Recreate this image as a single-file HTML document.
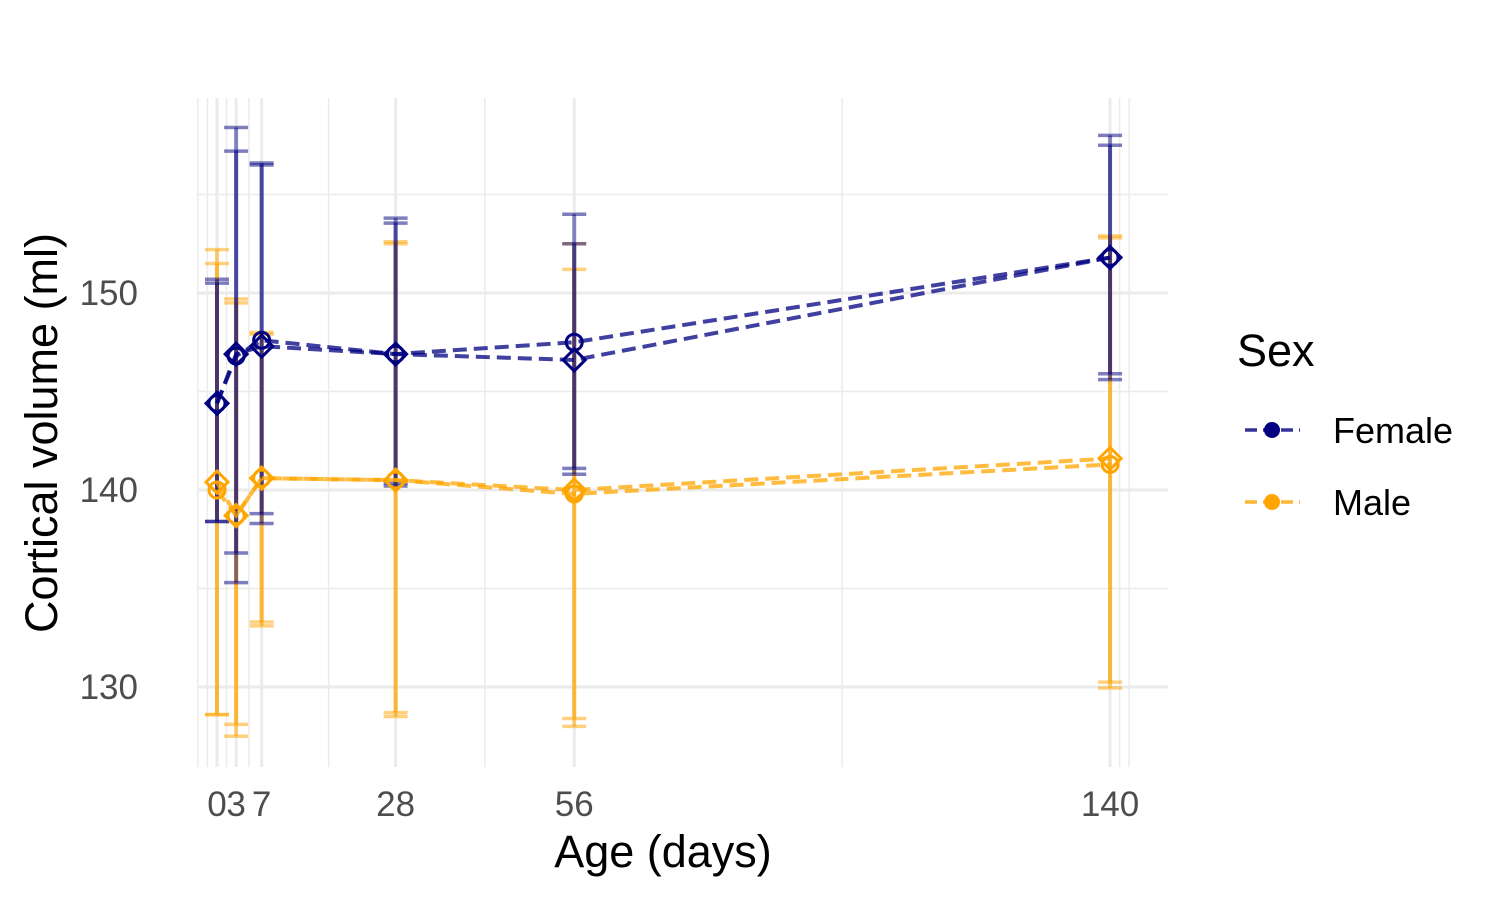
<!DOCTYPE html>
<html><head><meta charset="utf-8"><style>
body{margin:0;background:#fff;}
svg text{font-family:"Liberation Sans",sans-serif;}
</style></head><body>
<svg id="chart" width="1500" height="900" xmlns="http://www.w3.org/2000/svg">
<g id="grid"></g><g id="marks"></g><g id="axes"></g>
<text transform="translate(57,433) rotate(-90)" text-anchor="middle" font-size="45" fill="#000">Cortical volume (ml)</text>
<text x="663" y="867" text-anchor="middle" font-size="45" fill="#000">Age (days)</text>
<g>
<text x="1237" y="366" font-size="45">Sex</text>
<g>
<line x1="1245" y1="430" x2="1300" y2="430" stroke="#000080" stroke-width="3.5" stroke-dasharray="12,6" opacity="0.8"/>
<circle cx="1272" cy="430" r="8" fill="#000080"/>
<text x="1333" y="443" font-size="36">Female</text></g>
<g>
<line x1="1245" y1="502" x2="1300" y2="502" stroke="#FFA500" stroke-width="3.5" stroke-dasharray="12,6" opacity="0.8"/>
<circle cx="1272" cy="502" r="8" fill="#FFA500"/>
<text x="1333" y="515" font-size="36">Male</text></g>
</g>
</svg>
<script>
const ages=[0,3,7,28,56,140];
const xMajor=[0,3,7,28,56,140];
const xMinor=[-3,-1.5,1.5,5,17.5,42,98,141.5,143];
const yMajor=[130,140,150];
const yMinor=[135,145,155];
const femaleA=[144.4,146.8,147.6,146.9,147.5,151.8];
const femaleB=[144.4,146.9,147.3,146.9,146.6,151.8];
const femaleAHi=[150.7,158.4,156.6,153.8,154.0,158.0];
const femaleALo=[138.4,136.8,138.8,140.35,141.1,145.9];
const femaleBHi=[150.5,157.2,156.5,153.55,152.5,157.5];
const femaleBLo=[138.4,135.3,138.3,140.2,140.8,145.6];
const maleA=[140.0,138.7,140.6,140.5,139.8,141.3];
const maleB=[140.4,138.7,140.6,140.5,140.0,141.6];
const maleAHi=[152.2,149.7,148.0,152.6,152.5,152.9];
const maleALo=[128.6,128.1,133.3,128.7,128.4,130.25];
const maleBHi=[151.5,149.5,147.9,152.5,151.2,152.8];
const maleBLo=[128.6,127.5,133.1,128.5,128.0,129.95];

const X=d=>217+d*6.379;
const Y=v=>293-(v-150)*19.7;
const NS="http://www.w3.org/2000/svg";
function mk(tag,parent,attrs){const e=document.createElementNS(NS,tag);for(const k in attrs)e.setAttribute(k,attrs[k]);parent.appendChild(e);return e;}
const grid=document.getElementById('grid'),marks=document.getElementById('marks'),axes=document.getElementById('axes');
const PL=198,PR=1168,PT=98,PB=767;
yMinor.forEach(v=>{const l=mk('line',grid,{x1:PL,x2:PR,y1:Y(v),y2:Y(v),stroke:'#ebebeb','stroke-width':1.5});

});
xMinor.forEach(d=>{const l=mk('line',grid,{x1:X(d),x2:X(d),y1:PT,y2:PB,stroke:'#ebebeb','stroke-width':1.5});

});
yMajor.forEach(v=>{const l=mk('line',grid,{x1:PL,x2:PR,y1:Y(v),y2:Y(v),stroke:'#ebebeb','stroke-width':3});


const t=mk('text',axes,{x:138,y:Y(v)+12,'text-anchor':'end','font-size':35,fill:'#4d4d4d'});t.textContent=v;

});
xMajor.forEach(d=>{const l=mk('line',grid,{x1:X(d),x2:X(d),y1:PT,y2:PB,stroke:'#ebebeb','stroke-width':3});

});
xMajor.forEach(d=>{const t=mk('text',axes,{x:X(d),y:816,'text-anchor':'middle','font-size':35,fill:'#4d4d4d'});t.textContent=d;

});

function errbars(hi,lo,col,name,op){ages.forEach((d,i)=>{const g=mk('g',marks,{});


mk('line',g,{x1:X(d),x2:X(d),y1:Y(hi[i]),y2:Y(lo[i]),stroke:col,'stroke-width':4,opacity:op});
mk('line',g,{x1:X(d)-12,x2:X(d)+12,y1:Y(hi[i]),y2:Y(hi[i]),stroke:col,'stroke-width':3.5,opacity:0.5});
mk('line',g,{x1:X(d)-12,x2:X(d)+12,y1:Y(lo[i]),y2:Y(lo[i]),stroke:col,'stroke-width':3.5,opacity:0.5});});}
errbars(maleAHi,maleALo,'#FFA500','male-errorbar',0.5);
errbars(maleBHi,maleBLo,'#FFA500','male-errorbar',0.5);
errbars(femaleAHi,femaleALo,'#000080','female-errorbar',0.45);
errbars(femaleBHi,femaleBLo,'#000080','female-errorbar',0.45);
function line(vals,col,name){const p=mk('polyline',marks,{points:ages.map((d,i)=>X(d)+','+Y(vals[i])).join(' '),fill:'none',stroke:col,'stroke-width':4,'stroke-dasharray':'14,7',opacity:0.75});

}
line(femaleA,'#000080','female-line-a');line(femaleB,'#000080','female-line-b');
line(maleA,'#FFA500','male-line-a');line(maleB,'#FFA500','male-line-b');
function pts(vals,col,shape,name){ages.forEach((d,i)=>{const x=X(d),y=Y(vals[i]);let e;
if(shape==='c')e=mk('circle',marks,{cx:x,cy:y,r:8,fill:'none',stroke:col,'stroke-width':3});
else e=mk('polygon',marks,{points:`${x},${y-11} ${x+11},${y} ${x},${y+11} ${x-11},${y}`,fill:'none',stroke:col,'stroke-width':3});

});}
pts(femaleA,'#000080','c','female-point-circle');pts(femaleB,'#000080','d','female-point-diamond');
pts(maleA,'#FFA500','c','male-point-circle');pts(maleB,'#FFA500','d','male-point-diamond');
</script>
</body></html>
